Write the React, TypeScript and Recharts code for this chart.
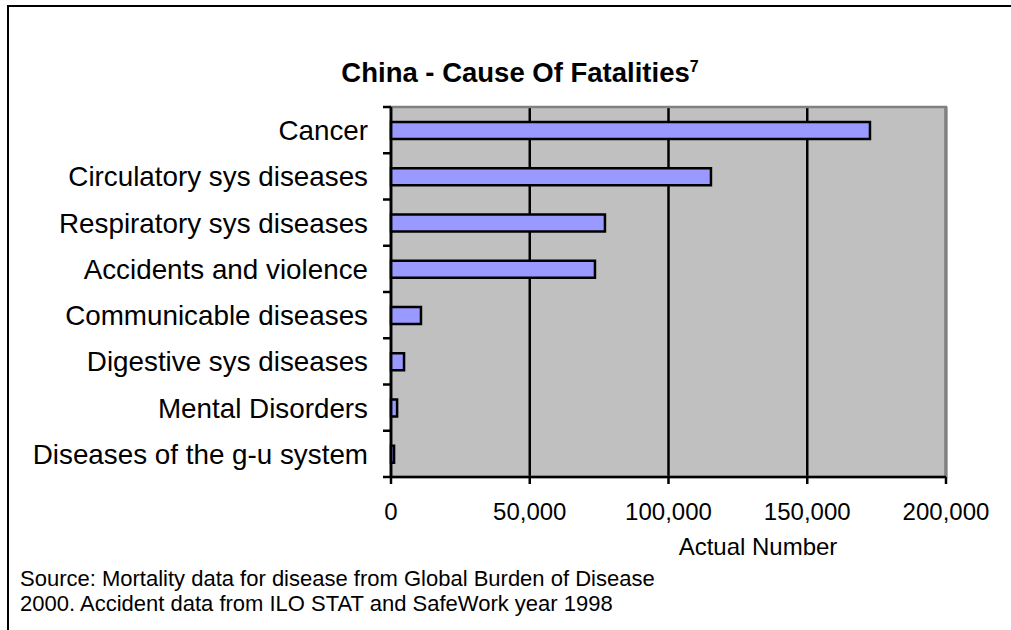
import { BarChart, Bar, XAxis, YAxis, CartesianGrid, ReferenceArea } from "recharts";

const categories = [
  "Cancer",
  "Circulatory sys diseases",
  "Respiratory sys diseases",
  "Accidents and violence",
  "Communicable diseases",
  "Digestive sys diseases",
  "Mental Disorders",
  "Diseases of the g-u system",
];

const fatalities = [172600, 115300, 77100, 73500, 10800, 4700, 2200, 1100];

const xTicks = [0, 50000, 100000, 150000, 200000];

const data = categories.map((name, i) => ({ name, value: fatalities[i] }));

const W = 1011;
const H = 630;
const PLOT_TOP = 107;
const PLOT_LEFT = 391;
const PLOT_RIGHT = 946;
const PLOT_BOTTOM = 477;
const X_AXIS_H = 60;
const BAND = (PLOT_BOTTOM - PLOT_TOP) / categories.length;
const FONT = "'Liberation Sans', Arial, sans-serif";

// Excel-style category tick: label at band centre, tick marks on band edges
const CategoryTick = (props: any) => {
  const { x, y, payload, index } = props;
  const axisX = x + 23;
  const last = index === categories.length - 1;
  return (
    <g>
      <line x1={axisX - 8} x2={axisX} y1={y - BAND / 2} y2={y - BAND / 2} stroke="#000" strokeWidth={2.5} />
      {last && (
        <line x1={axisX - 8} x2={axisX} y1={y + BAND / 2} y2={y + BAND / 2} stroke="#000" strokeWidth={2.5} />
      )}
      <text x={x} y={y} dy="0.36em" textAnchor="end" fontSize={27.8} fill="#000" fontFamily={FONT}>
        {payload.value}
      </text>
    </g>
  );
};

export default function App() {
  return (
    <div
      style={{
        position: "absolute",
        left: 0,
        top: 0,
        width: W,
        height: H,
        background: "#fff",
        fontFamily: FONT,
        overflow: "hidden",
      }}
    >
      <div
        style={{
          position: "absolute",
          left: 7,
          top: 5,
          width: W,
          height: H,
          borderTop: "2px solid #000",
          borderLeft: "2px solid #000",
        }}
      />
      <div
        style={{
          position: "absolute",
          left: 0,
          width: 1040,
          top: 57,
          textAlign: "center",
          fontWeight: "bold",
          fontSize: 27.5,
          color: "#000",
        }}
      >
        China - Cause Of Fatalities
        <sup style={{ fontSize: 16 }}>7</sup>
      </div>

      <div style={{ position: "absolute", left: 0, top: 0 }}>
        <BarChart
          width={W}
          height={H}
          data={data}
          layout="vertical"
          barSize={17}
          margin={{ top: PLOT_TOP, right: W - PLOT_RIGHT, bottom: H - PLOT_BOTTOM - X_AXIS_H, left: 0 }}
        >
          <CartesianGrid horizontal={false} stroke="#000" strokeWidth={2.5} fill="#C0C0C0" fillOpacity={1} />
          <ReferenceArea x1={0} x2={200000} fill="none" stroke="#808080" strokeWidth={2.5} />
          <XAxis
            type="number"
            domain={[0, 200000]}
            ticks={xTicks}
            height={X_AXIS_H}
            tickFormatter={(v: number) => v.toLocaleString("en-US")}
            tick={{ fontSize: 24, fill: "#000", fontFamily: FONT }}
            axisLine={{ stroke: "#000", strokeWidth: 2.5 }}
            tickLine={{ stroke: "#000", strokeWidth: 2.5 }}
            tickSize={7}
            tickMargin={19}
            interval={0}
          />
          <YAxis
            type="category"
            dataKey="name"
            width={PLOT_LEFT}
            tick={<CategoryTick />}
            tickLine={false}
            tickSize={8}
            tickMargin={15}
            axisLine={{ stroke: "#000", strokeWidth: 2.5 }}
            interval={0}
          />
          <Bar dataKey="value" fill="#9999FF" stroke="#000" strokeWidth={2.5} isAnimationActive={false} />
        </BarChart>
      </div>

      <div style={{ position: "absolute", left: 758, top: 533, transform: "translateX(-50%)", fontSize: 24, color: "#000", whiteSpace: "nowrap" }}>
        Actual Number
      </div>
      <div style={{ position: "absolute", left: 20, top: 566, fontSize: 22, lineHeight: "25px", color: "#000", whiteSpace: "nowrap" }}>
        Source: Mortality data for disease from Global Burden of Disease
        <br />
        2000. Accident data from ILO STAT and SafeWork year 1998
      </div>
    </div>
  );
}
